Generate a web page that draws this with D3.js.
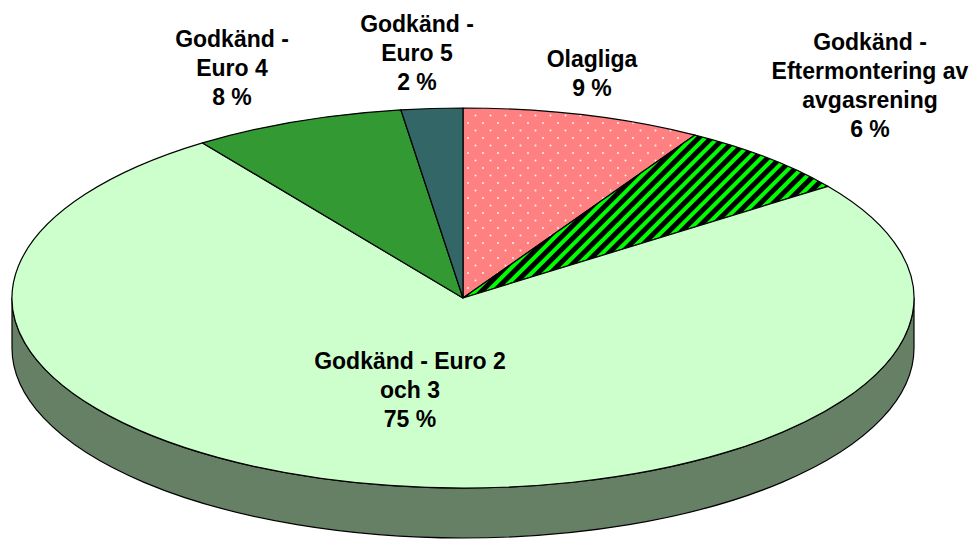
<!DOCTYPE html>
<html>
<head>
<meta charset="utf-8">
<script src="https://cdn.jsdelivr.net/npm/d3@7"></script>
<style>
  body { margin: 0; background: #fff; }
  svg { display: block; }
  .lbl { font-family: "Liberation Sans", Arial, sans-serif; font-weight: bold; font-size: 23px; fill: #000; }
</style>
</head>
<body>
<svg id="chart" width="973" height="542"></svg>
<script>
//Slices in drawing order, clockwise from 12 o'clock
const categories = ["Olagliga", "Godkänd - Eftermontering av avgasrening", "Godkänd - Euro 2 och 3", "Godkänd - Euro 4", "Godkänd - Euro 5"];
const values = [8.6, 6.4, 75.2, 7.6, 2.2];
//How each category name is broken on the chart
const labelLines = [["Olagliga"], ["Godkänd -", "Eftermontering av", "avgasrening"], ["Godkänd - Euro 2", "och 3"], ["Godkänd -", "Euro 4"], ["Godkänd -", "Euro 5"]];

//Layout of the 3d pie
let svg = d3.select("#chart"),
    cx = 463, cy = 298, rx = 451, ry = 190, depth = 50,
    lineGap = 29;
//Where each label block starts (center x, first baseline)
let labelPos = [[592, 67], [870, 50], [410, 369], [232, 47], [417, 32]];

let baseColor = d3.scaleOrdinal().domain(categories).range(["#ff8080", "#00ff00", "#ccffcc", "#339933", "#336666"]);
let fillOf = d3.scaleOrdinal().domain(categories).range(["url(#dots)", "url(#stripes)", "#ccffcc", "#339933", "#336666"]);

//Excel shades the side wall with half of the face colour
function wallColor(c) {
  let rgb = d3.rgb(baseColor(c));
  return d3.rgb(rgb.r / 2, rgb.g / 2, rgb.b / 2).formatHex();
}

let defs = svg.append("defs");
let dots = defs.append("pattern").attr("id", "dots")
    .attr("patternUnits", "userSpaceOnUse").attr("width", 15).attr("height", 15);
dots.append("rect").attr("width", 15).attr("height", 15).attr("fill", "#ff8080");
dots.append("circle").attr("cx", 3).attr("cy", 3).attr("r", 1).attr("fill", "#fff").attr("opacity", 0.9);
dots.append("circle").attr("cx", 10.5).attr("cy", 10.5).attr("r", 1).attr("fill", "#fff").attr("opacity", 0.9);

let stripes = defs.append("pattern").attr("id", "stripes")
    .attr("patternUnits", "userSpaceOnUse").attr("width", 9).attr("height", 9)
    .attr("patternTransform", "rotate(45)");
stripes.append("rect").attr("width", 9).attr("height", 9).attr("fill", "#000");
stripes.append("rect").attr("width", 4).attr("height", 9).attr("fill", "#00ff00");

let pie = d3.pie().sort(null).value(d => d.value);
let data = pie(categories.map((c, i) => ({name: c, value: values[i], lines: labelLines[i], pos: labelPos[i]})));

//Point on the ellipse for a pie angle (radians, clockwise from top)
function pt(a, dy) {
  return [cx + rx * Math.sin(a), cy - ry * Math.cos(a) + (dy || 0)];
}

//Side wall: only the front half of the pie (from 3 o'clock to 9 o'clock) is seen
svg.append("g").selectAll("path")
  .data(data.filter(d => d.endAngle > Math.PI / 2 && d.startAngle < 3 * Math.PI / 2))
  .enter().append("path")
  .attr("d", function(d) {
    let s = Math.max(d.startAngle, Math.PI / 2), e = Math.min(d.endAngle, 3 * Math.PI / 2);
    let p0 = pt(s), p1 = pt(e), q1 = pt(e, depth), q0 = pt(s, depth);
    return "M" + p0 + "A" + rx + "," + ry + " 0 0 1 " + p1 +
           "L" + q1 + "A" + rx + "," + ry + " 0 0 0 " + q0 + "Z";
  })
  .attr("fill", d => wallColor(d.data.name))
  .attr("stroke", "#000").attr("stroke-width", 1.2).attr("stroke-linejoin", "round");

//Top faces
svg.append("g").selectAll("path")
  .data(data)
  .enter().append("path")
  .attr("d", function(d) {
    let large = d.endAngle - d.startAngle > Math.PI ? 1 : 0;
    return "M" + cx + "," + cy + "L" + pt(d.startAngle) +
           "A" + rx + "," + ry + " 0 " + large + " 1 " + pt(d.endAngle) + "Z";
  })
  .attr("fill", d => fillOf(d.data.name))
  .attr("stroke", "#000").attr("stroke-width", 1.2).attr("stroke-linejoin", "round");

//Labels with name and rounded percentage
let total = d3.sum(values);
let labels = svg.append("g").selectAll("text")
  .data(data)
  .enter().append("text")
  .attr("class", "lbl")
  .attr("text-anchor", "middle")
  .attr("x", d => d.data.pos[0])
  .attr("y", d => d.data.pos[1]);
labels.each(function(d) {
  let t = d3.select(this);
  let lines = d.data.lines.concat([Math.round(100 * d.data.value / total) + " %"]);
  lines.forEach(function(l, i) {
    t.append("tspan").attr("x", d.data.pos[0]).attr("y", d.data.pos[1] + i * lineGap).text(l);
  });
});
</script>
</body>
</html>
